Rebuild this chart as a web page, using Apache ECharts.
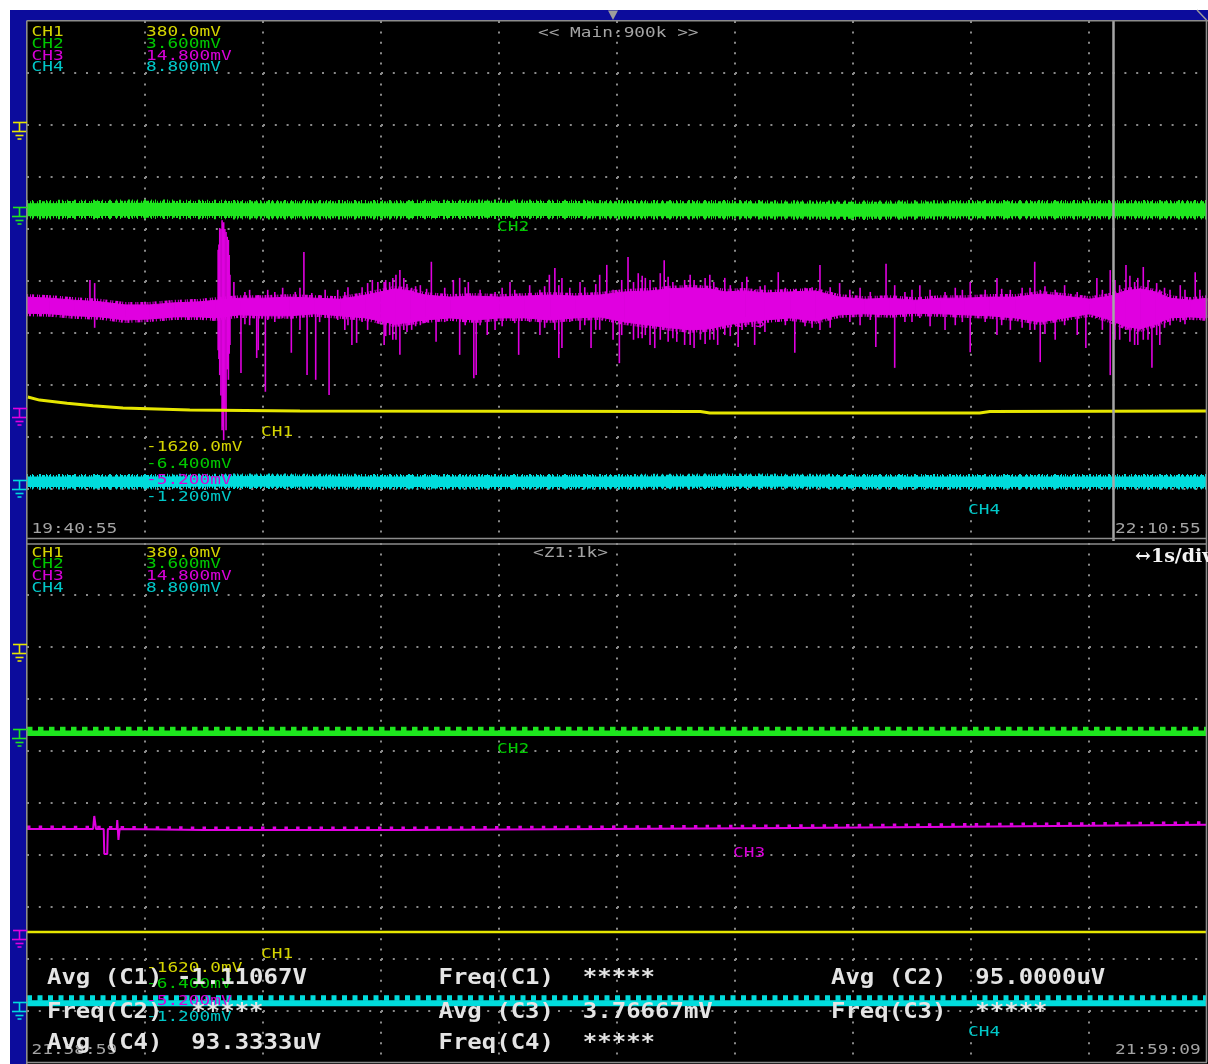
<!DOCTYPE html>
<html>
<head>
<meta charset="utf-8">
<script src="https://cdn.jsdelivr.net/npm/echarts@6/dist/echarts.min.js"></script>
<style>
  html, body { margin: 0; padding: 0; background: #ffffff; }
  #chart { width: 1208px; height: 1064px; }
</style>
</head>
<body>
<div id="chart"></div>
<script>
// ---------------- channel settings ----------------
const channelNames = ['CH1', 'CH2', 'CH3', 'CH4'];
const voltsPerDiv = ['380.0mV', '3.600mV', '14.800mV', '8.800mV'];
const offsetLabels = ['-1620.0mV', '-6.400mV', '-5.200mV', '-1.200mV'];
const groundLevels = [8.06, 6.42, 2.56, 1.17];          // ground marker level, divisions
const mainTimes = ['19:40:55', '22:10:55'];
const zoomTimes = ['21:58:59', '21:59:09'];
const mainTitle = '<< Main:900k >>';
const zoomTitle = '<Z1:1k>';
const zoomScale = '\u21941s/div';
const zoomStartMin = 138.07;                             // minutes after 19:40:55

// ---------------- main window (x: minutes, y: divisions) ----------------
const ch1Main = [[0.1, 2.77], [1.6, 2.71], [5.1, 2.65], [8.4, 2.60], [12.2, 2.56], [20.7, 2.52],
  [34.7, 2.50], [85.6, 2.49], [86.8, 2.46], [121.1, 2.46], [122.4, 2.49], [150, 2.50]];

const ch2Main = [[0, 6.37], [15, 6.38], [30, 6.37], [45, 6.37], [60, 6.38], [75, 6.37],
  [90, 6.37], [105, 6.36], [120, 6.37], [135, 6.37], [150, 6.37]];

const ch4Main = [[0, 1.14], [15, 1.14], [30, 1.15], [45, 1.14], [60, 1.14], [75, 1.14],
  [90, 1.15], [105, 1.14], [120, 1.14], [135, 1.14], [150, 1.14]];

// CH3 noise envelope: [minute, low, high]
const ch3Band = [
  [0, 4.38, 4.69], [2.9, 4.37, 4.67], [6.1, 4.33, 4.63], [9.3, 4.31, 4.60], [12.5, 4.25, 4.54],
  [15.6, 4.27, 4.54], [18.8, 4.31, 4.58], [22.0, 4.31, 4.60], [23.9, 4.29, 4.63], [27.1, 4.35, 4.67],
  [30.3, 4.33, 4.67], [33.4, 4.33, 4.69], [36.6, 4.37, 4.67], [39.8, 4.33, 4.65], [43.0, 4.29, 4.73],
  [44.9, 4.23, 4.79], [46.8, 4.17, 4.85], [48.7, 4.21, 4.81], [50.6, 4.25, 4.73], [53.8, 4.29, 4.69],
  [56.9, 4.25, 4.71], [60.1, 4.29, 4.69], [63.3, 4.29, 4.71], [66.5, 4.25, 4.73], [69.7, 4.29, 4.71],
  [72.8, 4.31, 4.73], [76.0, 4.21, 4.79], [79.2, 4.15, 4.81], [81.7, 4.10, 4.85], [84.3, 4.06, 4.87],
  [86.8, 4.08, 4.85], [88.7, 4.15, 4.79], [91.3, 4.21, 4.81], [93.8, 4.25, 4.77], [97.0, 4.29, 4.79],
  [100.2, 4.23, 4.81], [103.3, 4.35, 4.69], [106.5, 4.37, 4.65], [109.7, 4.35, 4.67], [112.9, 4.38, 4.63],
  [116.1, 4.37, 4.67], [119.2, 4.35, 4.67], [122.4, 4.33, 4.69], [125.6, 4.29, 4.69], [128.8, 4.21, 4.75],
  [131.9, 4.29, 4.71], [135.1, 4.37, 4.65], [137.7, 4.25, 4.71], [139.6, 4.13, 4.81], [141.5, 4.08, 4.85],
  [143.4, 4.17, 4.79], [145.3, 4.29, 4.67], [147.9, 4.31, 4.63], [150, 4.29, 4.67]
];

// CH3 glitches: [minute, low, high]
const ch3Spikes = [
  [8.0, 4.40, 5.02], [8.6, 4.10, 4.96],
  [24.3, 3.67, 5.60], [24.4, 3.50, 5.70], [24.5, 3.19, 6.02], [24.65, 2.80, 6.00], [24.8, 2.13, 6.17],
  [24.9, 2.20, 6.10], [25.0, 1.94, 6.13], [25.15, 2.50, 6.00], [25.3, 2.13, 5.94], [25.45, 3.30, 5.85],
  [25.6, 3.10, 5.79], [25.7, 3.60, 5.50], [25.8, 3.77, 5.12],
  [26.3, 4.35, 4.98], [27.2, 3.23, 4.63], [27.7, 4.17, 4.79], [28.3, 4.15, 4.83], [29.2, 3.52, 4.63],
  [29.4, 3.67, 4.73], [30.3, 2.87, 4.73], [30.6, 4.25, 4.83], [31.5, 4.21, 4.79], [32.5, 4.29, 4.87],
  [33.6, 3.62, 4.63], [34.1, 4.40, 4.79], [34.7, 4.06, 4.87], [35.2, 4.40, 5.56], [35.6, 3.19, 4.63],
  [36.2, 4.40, 4.77], [36.7, 3.10, 4.63], [37.2, 4.21, 4.73], [37.9, 4.29, 4.83], [38.4, 2.81, 4.54],
  [39.5, 4.25, 4.83], [40.4, 4.06, 4.79], [40.8, 4.15, 4.88], [41.3, 3.77, 4.54], [41.9, 3.81, 4.54],
  [42.6, 4.21, 4.88], [43.3, 4.06, 4.96], [43.9, 4.44, 5.02], [44.6, 4.29, 4.98], [45.4, 3.77, 4.98],
  [45.6, 3.94, 5.02], [46.1, 3.96, 4.98], [46.5, 3.87, 5.06], [46.9, 3.87, 5.12], [47.4, 3.58, 5.21],
  [47.9, 4.06, 5.06], [48.3, 4.02, 4.94], [48.9, 4.06, 4.87], [49.4, 4.13, 4.90], [50.0, 4.15, 4.92],
  [50.8, 4.21, 4.85], [51.4, 4.44, 5.37], [52.0, 3.83, 4.63], [53.1, 4.21, 4.87], [54.2, 4.44, 5.02],
  [55.0, 3.58, 5.06], [55.7, 4.15, 4.88], [56.1, 4.25, 4.98], [56.8, 3.13, 4.63], [57.1, 3.19, 4.63],
  [57.6, 4.15, 4.83], [58.5, 3.96, 4.63], [59.5, 4.06, 4.79], [60.4, 4.13, 4.87], [61.4, 4.40, 4.98],
  [62.0, 4.19, 4.83], [62.5, 3.58, 4.63], [63.9, 4.21, 4.92], [65.2, 3.96, 4.83], [65.8, 4.10, 4.90],
  [66.4, 4.25, 5.12], [67.1, 4.06, 5.25], [67.6, 3.52, 4.92], [68.0, 3.71, 5.06], [69.0, 4.21, 4.87],
  [70.3, 4.06, 4.98], [70.9, 4.15, 4.88], [71.7, 3.71, 4.63], [72.3, 4.06, 4.94], [72.8, 4.06, 5.12],
  [73.7, 4.44, 5.31], [74.5, 3.87, 4.83], [75.3, 3.42, 4.73], [75.6, 3.96, 5.02], [76.4, 4.44, 5.46],
  [77.1, 3.87, 4.98], [77.7, 3.90, 5.15], [78.2, 3.90, 5.10], [78.6, 3.96, 5.06], [79.2, 3.77, 5.02],
  [79.8, 3.71, 4.63], [80.5, 3.87, 5.15], [81.0, 4.25, 5.40], [81.5, 3.83, 5.08], [82.1, 3.90, 4.98],
  [82.6, 3.83, 4.73], [83.6, 3.77, 5.02], [84.3, 3.77, 5.12], [84.8, 3.71, 5.02], [85.6, 3.87, 4.92],
  [86.2, 3.79, 5.06], [86.8, 3.87, 5.12], [87.3, 3.87, 4.98], [87.8, 3.77, 4.87], [88.7, 3.96, 5.06],
  [89.4, 3.94, 4.92], [90.4, 3.73, 4.83], [90.9, 4.06, 4.98], [91.5, 4.25, 5.08], [92.5, 3.77, 4.83],
  [93.2, 4.10, 4.90], [93.8, 4.02, 4.92], [95.5, 4.29, 5.17], [96.4, 4.15, 4.87], [97.6, 3.62, 4.83],
  [98.9, 4.13, 4.87], [99.8, 4.10, 4.88], [100.8, 4.06, 5.31], [102.1, 4.10, 4.88], [103.3, 4.40, 4.96],
  [104.6, 4.21, 4.83], [105.9, 4.15, 4.87], [107.2, 4.25, 4.79], [107.9, 3.73, 4.63], [109.2, 4.35, 5.33],
  [110.3, 3.33, 4.92], [111.6, 4.21, 4.79], [112.5, 4.21, 4.83], [113.5, 4.29, 4.92], [114.8, 4.13, 4.83],
  [116.7, 4.06, 4.79], [118.0, 4.15, 4.87], [118.9, 4.21, 4.83], [119.9, 3.63, 4.98], [121.8, 4.21, 4.83],
  [123.3, 3.96, 5.06], [123.9, 4.15, 4.85], [125.0, 4.06, 4.83], [126.5, 4.10, 4.87], [127.5, 4.06, 4.87],
  [128.1, 4.06, 5.37], [128.8, 3.44, 4.83], [129.4, 3.98, 4.90], [130.7, 3.87, 4.83], [131.9, 4.15, 4.92],
  [133.5, 3.96, 4.79], [134.6, 3.71, 4.63], [136.0, 4.29, 5.06], [136.7, 4.06, 4.83], [137.7, 3.19, 5.21],
  [138.3, 3.87, 5.02], [138.9, 3.87, 4.92], [139.7, 4.06, 5.31], [140.2, 3.83, 5.10], [140.8, 3.77, 4.98],
  [141.2, 3.77, 5.06], [141.9, 3.87, 5.27], [142.5, 3.87, 5.02], [143.0, 3.33, 4.83], [143.6, 3.96, 4.96],
  [144.0, 3.77, 4.83], [144.6, 4.10, 4.87], [145.3, 4.15, 4.83], [146.6, 4.21, 4.92], [147.2, 4.17, 4.83],
  [148.5, 4.40, 5.17], [149.1, 4.25, 4.83]
];

// ---------------- zoom window (x: seconds, y: divisions) ----------------
const ch1Zoom = [[0, 2.52], [10, 2.52]];
const ch2ZoomLow = [[0, 6.34], [10, 6.34]];
const ch2ZoomHigh = [[0, 6.42], [10, 6.42]];
const ch3Zoom = [[0, 4.50], [0.56, 4.50], [0.57, 4.75], [0.585, 4.50], [0.65, 4.50], [0.655, 4.02],
  [0.68, 4.02], [0.685, 4.50], [0.76, 4.50], [0.765, 4.67], [0.775, 4.29], [0.785, 4.50],
  [1.5, 4.48], [3.2, 4.48], [4.9, 4.50], [6.5, 4.52], [8.2, 4.55], [10, 4.58]];
const ch3ZoomPeak = [[0, 4.54], [1.5, 4.52], [3.2, 4.52], [4.9, 4.54], [6.5, 4.56], [8.2, 4.59], [10, 4.62]];
const ch4ZoomLow = [[0, 1.15], [10, 1.15]];
const ch4ZoomHigh = [[0, 1.25], [10, 1.25]];

// ---------------- measurements ----------------
const measurements = [
  ['Avg (C1) -1.11067V', 'Freq(C1)  *****', 'Avg (C2)  95.0000uV'],
  ['Freq(C2)  *****', 'Avg (C3)  3.76667mV', 'Freq(C3)  *****'],
  ['Avg (C4)  93.3333uV', 'Freq(C4)  *****']
];

// ---------------- styling ----------------
const traceColors = ['#e6e600', '#1ee61e', '#e000e0', '#00dcdc'];
const textColors = ['#d4d400', '#00c800', '#d800d8', '#00c8c8'];
const FRAME = '#0c0c9c';
const BORDER = '#8c8c8c';
const DOT = '#8a8a8a';
const GRAYTXT = '#a4a4a4';
const MONO = '"DejaVu Sans Mono", "Liberation Mono", monospace';
const noiseA = [1, 2, 1, 1, 2, 3, 1, 1, 1, 2, 3, 1, 2, 1, 1, 3];
const noiseB = [1, 4, 1, 6, 2, 5, 1, 3, 1, 7, 2, 2];
const noiseC = [1, 1, 2, 2, 1, 3, 1, 1, 3, 1, 1, 2];

const chart = echarts.init(document.getElementById('chart'), null, { renderer: 'canvas' });

function dottedX() {
  return { show: true, showMinLine: false, showMaxLine: false,
    lineStyle: { color: DOT, width: 2, type: [2, 8.4] } };
}
function dottedY() {
  return { show: true, showMinLine: false, showMaxLine: false,
    lineStyle: { color: DOT, width: 2, type: [2, 9.8] } };
}
function hiddenAxis(extra) {
  return Object.assign({ type: 'value', axisLine: { show: false }, axisTick: { show: false },
    axisLabel: { show: false } }, extra);
}

// CH3 band: one filled quad between neighbouring envelope samples, edges roughened by a dashed stroke
function bandItem(params, api) {
  const i = params.dataIndex;
  if (i >= ch3Band.length - 1) return null;
  const a = ch3Band[i], b = ch3Band[i + 1];
  const pts = [api.coord([a[0], a[1]]), api.coord([b[0], b[1]]), api.coord([b[0], b[2]]), api.coord([a[0], a[2]])];
  return { type: 'group', children: [
    { type: 'polygon', shape: { points: pts }, style: { fill: traceColors[2], stroke: traceColors[2], lineWidth: 1 } },
    { type: 'polyline', shape: { points: [pts[0], pts[1]] }, style: { stroke: traceColors[2], lineWidth: 6, lineDash: noiseC, fill: null } },
    { type: 'polyline', shape: { points: [pts[3], pts[2]] }, style: { stroke: traceColors[2], lineWidth: 6, lineDash: noiseA, fill: null } }
  ] };
}
function spikeItem(params, api) {
  const p0 = api.coord([api.value(0), api.value(1)]);
  const p1 = api.coord([api.value(0), api.value(2)]);
  return { type: 'line', shape: { x1: p0[0], y1: p0[1], x2: p1[0], y2: p1[1] },
    style: { stroke: traceColors[2], lineWidth: 1.6 } };
}
function groundItem(params, api) {
  const p = api.coord([api.value(0), api.value(1)]);
  const y = Math.round(p[1]) + 0.5;
  const r = p[0];
  const cx = r - 7.5;
  const col = traceColors[api.value(2)];
  const st = { stroke: col, lineWidth: 1.6 };
  return { type: 'group', children: [
    { type: 'line', shape: { x1: r - 14, y1: y, x2: r, y2: y }, style: st },
    { type: 'line', shape: { x1: cx, y1: y, x2: cx, y2: y + 9 }, style: st },
    { type: 'line', shape: { x1: r - 15, y1: y + 9, x2: r - 1, y2: y + 9 }, style: st },
    { type: 'line', shape: { x1: cx - 4, y1: y + 13, x2: cx + 4, y2: y + 13 }, style: st },
    { type: 'line', shape: { x1: cx - 2, y1: y + 16.5, x2: cx + 2, y2: y + 16.5 }, style: st }
  ] };
}

function lineSeries(idx, data, color, width, dash, z) {
  return { type: 'line', xAxisIndex: idx, yAxisIndex: idx, data: data, symbol: 'none',
    silent: true, animation: false, z: z || 2,
    lineStyle: { color: color, width: width, type: dash || 'solid', cap: 'butt' } };
}

const groundData = groundLevels.map((v, i) => [0, v, i]);

// ---------------- text overlay ----------------
const SMALL = 14, SMALL_SX = 1.27;
const BIG = 22, BIG_SX = 1.09;
function txt(x, y, s, color, size, sx, z, fontFamily, weight) {
  return { type: 'text', x: x, y: y, scaleX: sx, z: z == null ? 100 : z, silent: true,
    style: { text: s, fill: color, font: (weight || 'normal') + ' ' + size + 'px ' + (fontFamily || MONO),
      align: 'left', textAlign: 'left', verticalAlign: 'middle', textVerticalAlign: 'middle' } };
}

const graphics = [];
// screen frame
graphics.push({ type: 'rect', z: -20, silent: true, shape: { x: 27, y: 21, width: 1181, height: 1043 }, style: { fill: '#000' } });
graphics.push({ type: 'rect', z: -19, silent: true, shape: { x: 10, y: 10, width: 1198, height: 10.5 }, style: { fill: FRAME } });
graphics.push({ type: 'rect', z: -19, silent: true, shape: { x: 10, y: 10, width: 16.5, height: 1054 }, style: { fill: FRAME } });
const borderLines = [[27, 20.8, 1208, 20.8], [26.8, 21, 26.8, 1064], [1206.5, 21, 1206.5, 1062],
  [27, 538.5, 1207, 538.5], [27, 544, 1207, 544], [27, 1062.5, 1207, 1062.5]];
borderLines.forEach(l => graphics.push({ type: 'line', z: 50, silent: true,
  shape: { x1: l[0], y1: l[1], x2: l[2], y2: l[3] }, style: { stroke: BORDER, lineWidth: 1.6 } }));
graphics.push({ type: 'polygon', z: 50, silent: true, shape: { points: [[608, 10.5], [618, 10.5], [613, 20]] }, style: { fill: '#9c9c9c' } });
graphics.push({ type: 'line', z: 50, silent: true, shape: { x1: 1197, y1: 10, x2: 1206.5, y2: 20 }, style: { stroke: '#9c9c9c', lineWidth: 1.5 } });

// channel legends and offsets for both panels
[0, 520.5].forEach(dy => {
  channelNames.forEach((n, i) => {
    graphics.push(txt(31.5, 32.5 + dy + i * 11.7, n, textColors[i], SMALL, SMALL_SX));
    graphics.push(txt(146, 32.5 + dy + i * 11.7, voltsPerDiv[i], textColors[i], SMALL, SMALL_SX));
    graphics.push(txt(146, 447.5 + dy + i * 16.5, offsetLabels[i], textColors[i], SMALL, SMALL_SX));
  });
});
graphics.push(txt(538, 33.5, mainTitle, GRAYTXT, SMALL, SMALL_SX));
graphics.push(txt(533, 553, zoomTitle, GRAYTXT, SMALL, SMALL_SX));
graphics.push(txt(1135, 557, zoomScale, '#f4f4f4', 19, 1, 100, '"DejaVu Serif", serif', 'bold'));
graphics.push(txt(31.5, 529, mainTimes[0], GRAYTXT, SMALL, SMALL_SX));
graphics.push(txt(1115, 529, mainTimes[1], GRAYTXT, SMALL, SMALL_SX));
graphics.push(txt(31.5, 1050, zoomTimes[0], GRAYTXT, SMALL, SMALL_SX));
graphics.push(txt(1115, 1050, zoomTimes[1], GRAYTXT, SMALL, SMALL_SX));

// trace name tags
const tagPos = [[261, 432], [497, 227], [733, 323], [968, 510]];
tagPos.forEach((p, i) => graphics.push(txt(p[0], p[1], channelNames[i], textColors[i], SMALL, SMALL_SX, i === 2 ? 1 : 100)));
tagPos.forEach((p, i) => graphics.push(txt(p[0], p[1] + (i === 2 ? 530 : 522), channelNames[i], textColors[i], SMALL, SMALL_SX)));

// measurement block
const measCols = [47, 438.5, 831];
const measRows = [978, 1012.5, 1043.5];
measurements.forEach((row, r) => row.forEach((s, c) =>
  graphics.push(txt(measCols[c], measRows[r], s, '#e4e4e4', BIG, BIG_SX, 110, MONO, 'bold'))));

// ---------------- chart ----------------
const option = {
  animation: false,
  backgroundColor: '#ffffff',
  grid: [
    { left: 27, top: 21, width: 1180, height: 520 },
    { left: 27, top: 543, width: 1180, height: 520 }
  ],
  xAxis: [
    hiddenAxis({ gridIndex: 0, min: 0, max: 150, interval: 15, splitLine: dottedX() }),
    hiddenAxis({ gridIndex: 1, min: 0, max: 10, interval: 1, splitLine: dottedX() })
  ],
  yAxis: [
    hiddenAxis({ gridIndex: 0, min: 0, max: 10, interval: 1, splitLine: dottedY() }),
    hiddenAxis({ gridIndex: 1, min: 0, max: 10, interval: 1, splitLine: dottedY() })
  ],
  graphic: { elements: graphics },
  series: [
    // main window
    lineSeries(0, ch2Main, traceColors[1], 13),
    lineSeries(0, ch2Main, traceColors[1], 17, noiseA),
    lineSeries(0, ch2Main, traceColors[1], 19.5, noiseB),
    { type: 'custom', xAxisIndex: 0, yAxisIndex: 0, data: ch3Band, renderItem: bandItem,
      encode: { x: 0, y: [1, 2] }, silent: true, z: 3 },
    { type: 'custom', xAxisIndex: 0, yAxisIndex: 0, data: ch3Spikes, renderItem: spikeItem,
      encode: { x: 0, y: [1, 2] }, silent: true, z: 3 },
    Object.assign(lineSeries(0, ch1Main, traceColors[0], 3, null, 4), {
      markLine: { silent: true, symbol: 'none', label: { show: false },
        lineStyle: { color: '#a6a6a6', width: 2.5, type: 'solid' },
        data: [{ xAxis: zoomStartMin }] }
    }),
    lineSeries(0, ch4Main, traceColors[3], 10.5),
    lineSeries(0, ch4Main, traceColors[3], 13.5, noiseA),
    lineSeries(0, ch4Main, traceColors[3], 15.5, noiseB),
    { type: 'custom', xAxisIndex: 0, yAxisIndex: 0, data: groundData, renderItem: groundItem,
      encode: { x: 0, y: 1 }, silent: true, clip: false, z: 60 },
    // zoom window
    lineSeries(1, ch2ZoomLow, traceColors[1], 5.5),
    lineSeries(1, ch2ZoomHigh, traceColors[1], 5, [5.5, 5.5]),
    lineSeries(1, ch3Zoom, traceColors[2], 2),
    lineSeries(1, ch3ZoomPeak, traceColors[2], 3, [3.5, 8.2]),
    lineSeries(1, ch1Zoom, traceColors[0], 2.5),
    lineSeries(1, ch4ZoomLow, traceColors[3], 6),
    lineSeries(1, ch4ZoomHigh, traceColors[3], 5.5, [5, 5.5]),
    { type: 'custom', xAxisIndex: 1, yAxisIndex: 1, data: groundData, renderItem: groundItem,
      encode: { x: 0, y: 1 }, silent: true, clip: false, z: 60 }
  ]
};
chart.setOption(option);
</script>
</body>
</html>
